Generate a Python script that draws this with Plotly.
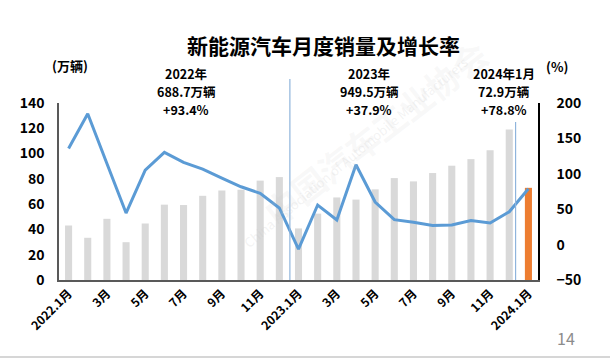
import plotly.graph_objects as go

months = ["2022.1月", "2月", "3月", "4月", "5月", "6月", "7月", "8月", "9月", "10月", "11月", "12月",
          "2023.1月", "2月", "3月", "4月", "5月", "6月", "7月", "8月", "9月", "10月", "11月", "12月",
          "2024.1月"]
sales = [43.1, 33.4, 48.4, 29.9, 44.7, 59.6, 59.3, 66.6, 70.8, 71.4, 78.6, 81.4,
         40.8, 52.5, 65.3, 63.6, 71.7, 80.6, 78.0, 84.6, 90.4, 95.6, 102.6, 119.1,
         72.9]
growth = [135.8, 184.8, 114.5, 44.6, 105.2, 130.2, 116.1, 106.6, 93.9, 81.7, 72.3, 51.8,
          -6.3, 55.9, 34.8, 112.8, 60.2, 35.2, 31.6, 27.0, 27.7, 33.9, 30.5, 46.4,
          78.8]
tick_idx = list(range(0, 25, 2))
tick_text = [months[i] for i in tick_idx]
annot_lines = [["2022年", "688.7万辆", "+93.4%"],
               ["2023年", "949.5万辆", "+37.9%"],
               ["2024年1月", "72.9万辆", "+78.8%"]]

x = list(range(len(months)))
bar_colors = ["#D9D9D9"] * (len(months) - 1) + ["#ED7D31"]

FONT = "Noto Sans CJK SC"

fig = go.Figure()
fig.add_trace(go.Bar(x=x, y=sales, marker=dict(color=bar_colors, line=dict(width=0)),
                     width=0.37, yaxis="y", hoverinfo="skip"))
fig.add_trace(go.Scatter(x=x, y=growth, mode="lines", yaxis="y2",
                         line=dict(color="#5B9BD5", width=3), hoverinfo="skip"))

W, H = 610, 358
L, R, T, B = 59, 72, 103, 78
ph = H - T - B
pw = W - L - R

fig.update_layout(
    width=W, height=H,
    margin=dict(l=L, r=R, t=T, b=B, autoexpand=False),
    paper_bgcolor="white", plot_bgcolor="rgba(0,0,0,0)",
    showlegend=False,
    font=dict(family=FONT, color="#000000"),
    xaxis=dict(range=[-0.5, 24.5], tickmode="array", tickvals=tick_idx, ticktext=tick_text,
               tickangle=-45, tickfont=dict(size=12, weight="bold", family=FONT),
               showline=True, linecolor="#595959", linewidth=1.5, showgrid=False,
               ticks="", zeroline=False),
    yaxis=dict(range=[0, 140], dtick=20, showgrid=False, zeroline=False,
               showline=True, linecolor="#595959", linewidth=1.5, ticks="",
               tickfont=dict(size=14, weight="bold", family=FONT), ticklabelstandoff=10),
    yaxis2=dict(range=[-50, 200], dtick=50, overlaying="y", side="right", showgrid=False,
                zeroline=False, showline=True, linecolor="#000000", linewidth=1.5, ticks="",
                tickfont=dict(size=14, weight="bold", family=FONT), ticklabelstandoff=14),
)

def px_x(px):
    return (px - L) / pw

def px_y(py):
    return (H - B - py) / ph

# separators
fig.add_shape(type="line", xref="x", yref="paper", x0=11.55, x1=11.55, y0=0, y1=px_y(79),
              line=dict(color="#8FB4DC", width=1.2))
fig.add_shape(type="line", xref="x", yref="paper", x0=23.33, x1=23.33, y0=0, y1=px_y(122),
              line=dict(color="#8FB4DC", width=1.2))
# bottom border
fig.add_shape(type="line", xref="paper", yref="paper", x0=px_x(0), x1=px_x(W),
              y0=px_y(357), y1=px_y(357), line=dict(color="#C8C8C8", width=1.5))

# watermark (very faint, kept inside the picture)
fig.add_annotation(text="中国汽车工业协会", xref="paper", yref="paper", x=px_x(375), y=px_y(132),
                   xanchor="center", yanchor="middle", showarrow=False, textangle=-38,
                   font=dict(size=34, color="rgba(200,200,200,0.13)", family=FONT,
                             weight="bold"))
fig.add_annotation(text="China Association of Automobile Manufacturers", xref="paper",
                   yref="paper", x=px_x(355), y=px_y(152), xanchor="center", yanchor="middle",
                   showarrow=False, textangle=-40,
                   font=dict(size=13, color="rgba(200,200,200,0.22)", family=FONT))

# title
fig.add_annotation(text="<b>新能源汽车月度销量及增长率</b>", xref="paper", yref="paper",
                   x=px_x(323), y=px_y(45), xanchor="center", yanchor="middle",
                   showarrow=False, font=dict(size=21, color="#000000", family=FONT))
# axis units
fig.add_annotation(text="<b>(万辆)</b>", xref="paper", yref="paper", x=px_x(70),
                   y=px_y(65), xanchor="center", yanchor="middle", showarrow=False,
                   font=dict(size=13, family=FONT))
fig.add_annotation(text="<b>(%)</b>", xref="paper", yref="paper", x=px_x(557),
                   y=px_y(66), xanchor="center", yanchor="middle", showarrow=False,
                   font=dict(size=13, family=FONT))
# year annotations (one line each)
for cx, lines in zip([186, 369, 504], annot_lines):
    for k, t in enumerate(lines):
        fig.add_annotation(text="<b>" + t + "</b>", xref="paper", yref="paper", x=px_x(cx),
                           y=px_y(73 + 18 * k), xanchor="center", yanchor="middle",
                           showarrow=False, font=dict(size=12.5, family=FONT))
# page number
fig.add_annotation(text="14", xref="paper", yref="paper", x=px_x(566), y=px_y(338),
                   xanchor="center", yanchor="middle", showarrow=False,
                   font=dict(size=16, color="#8C8C8C", family=FONT))

fig.write_html("out.html", config={"displayModeBar": False},
               post_script="document.body.style.margin='0';document.body.style.padding='0';"
                           "document.documentElement.style.overflow='hidden';")
